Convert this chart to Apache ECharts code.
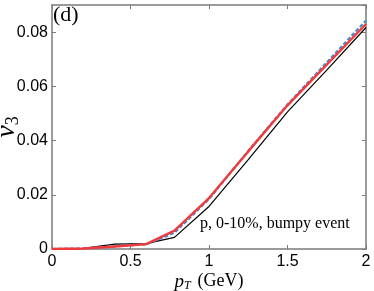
<!DOCTYPE html>
<html><head><meta charset="utf-8">
<script src="https://cdn.jsdelivr.net/npm/echarts@6/dist/echarts.min.js"></script>
<style>html,body{margin:0;padding:0;background:#fff}#c{width:374px;height:291px}</style>
</head><body><div id="c"></div>
<script>
const pt = [0, 0.2, 0.4, 0.6, 0.78, 1.0, 1.25, 1.5, 1.75, 2.0];
const blackV3 = [0, 0.0002, 0.0018, 0.002, 0.0043, 0.0157, 0.033, 0.0506, 0.066, 0.0817];
const blueV3 = [0, 0.0002, 0.001, 0.0017, 0.006, 0.0184, 0.0362, 0.0533, 0.0688, 0.0843];
const redV3 = [0, 0.0002, 0.0009, 0.0018, 0.0068, 0.0188, 0.036, 0.053, 0.068, 0.083];
const xTicks = {0:'0',0.5:'0.5',1:'1',1.5:'1.5',2:'2'};
const yTicks = {0:'0',0.02:'0.02',0.04:'0.04',0.06:'0.06',0.08:'0.08'};
const pair = (xs, ys) => xs.map((x, i) => [x, ys[i]]);
const frame = '#7a7a7a';
const chart = echarts.init(document.getElementById('c'), null, {renderer: 'canvas'});
const tickFont = {fontFamily: 'Liberation Sans', fontSize: 16, color: '#000'};
const lineCfg = {show: true, onZero: false, lineStyle: {color: frame, width: 1.5}};
const tickCfg = {show: true, inside: true, length: 4, lineStyle: {color: frame, width: 1}};
chart.setOption({
  animation: false,
  grid: {left: 52, right: 8, top: 5, bottom: 42, outerBoundsMode: 'none', containLabel: false},
  xAxis: [{
    type: 'value', min: 0, max: 2, interval: 0.5,
    axisLine: lineCfg, axisTick: tickCfg,
    splitLine: {show: false},
    axisLabel: Object.assign({margin: 5, formatter: v => xTicks[Math.round(v*10)/10] ?? ''}, tickFont),
    name: '{i|p}{s|T}  {n|(GeV)}', nameLocation: 'middle', nameGap: 22, nameMoveOverlap: false,
    nameTextStyle: {rich: {
      i: {fontFamily: 'Liberation Serif', fontStyle: 'italic', fontSize: 19, color: '#000'},
      s: {fontFamily: 'Liberation Serif', fontStyle: 'italic', fontSize: 12, color: '#000', padding: [9,0,0,0]},
      n: {fontFamily: 'Liberation Serif', fontSize: 18, color: '#000'}
    }}
  }, {
    type: 'value', min: 0, max: 2, interval: 0.5, position: 'top',
    axisLine: lineCfg, axisTick: tickCfg,
    axisLabel: {show: false}, splitLine: {show: false}
  }],
  yAxis: [{
    type: 'value', min: 0, max: 0.09, interval: 0.02,
    axisLine: lineCfg, axisTick: tickCfg,
    splitLine: {show: false},
    axisLabel: Object.assign({margin: 4, showMaxLabel: false, formatter: v => yTicks[Math.round(v*100)/100] ?? ''}, tickFont),
    name: '{i|v}{s|3}', nameLocation: 'middle', nameGap: 30, nameRotate: 90, nameMoveOverlap: false,
    nameTextStyle: {rich: {
      i: {fontFamily: 'Liberation Serif', fontStyle: 'italic', fontSize: 28, color: '#000'},
      s: {fontFamily: 'Liberation Serif', fontSize: 18, color: '#000', padding: [12,0,0,0]}
    }}
  }, {
    type: 'value', min: 0, max: 0.09, interval: 0.02, position: 'right',
    axisLine: lineCfg, axisTick: tickCfg,
    axisLabel: {show: false}, splitLine: {show: false}
  }],
  graphic: [
    {type: 'text', left: 53, top: 4, style: {text: '(d)', font: '22px "Liberation Serif"', fill: '#000'}},
    {type: 'text', left: 200, top: 216, style: {text: 'p, 0-10%, bumpy event', font: '16px "Liberation Serif"', fill: '#000'}}
  ],
  series: [
    {type: 'line', data: pair(pt, blackV3), symbol: 'none', lineStyle: {color: '#000', width: 1.2}, z: 2},
    {type: 'line', data: pair(pt, blueV3), symbol: 'none', lineStyle: {color: '#3a8fdc', width: 2.2, type: [4, 2]}, z: 3},
    {type: 'line', data: pair(pt, redV3), symbol: 'none', lineStyle: {color: '#f23a3a', width: 2.4}, z: 4}
  ]
});
</script></body></html>
